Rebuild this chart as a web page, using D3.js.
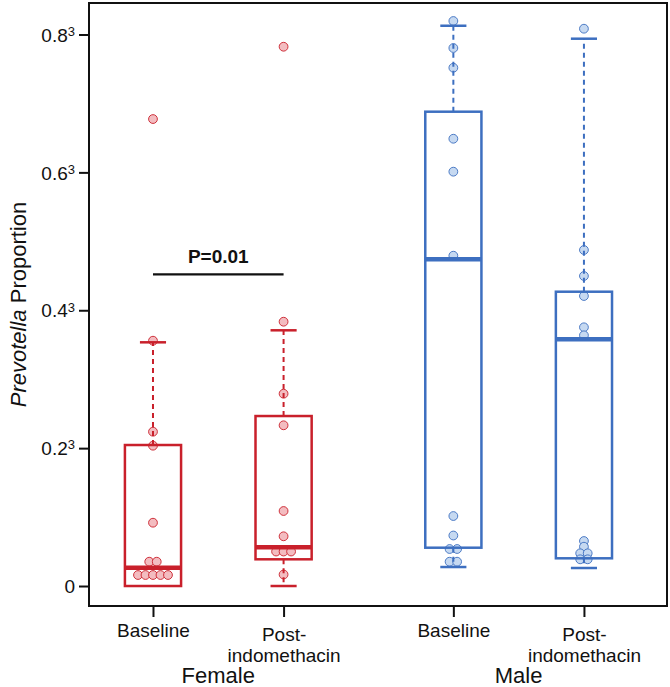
<!DOCTYPE html>
<html>
<head>
<meta charset="utf-8">
<script src="https://cdn.jsdelivr.net/npm/d3@7"></script>
<style>
  html, body { margin: 0; padding: 0; background: #fff; }
  svg { display: block; font-family: "Liberation Sans", Arial, sans-serif; }
</style>
</head>
<body>
<svg id="chart" width="670" height="687"></svg>
<script>
// ---------------- data (Prevotella proportion) ----------------
const groups = ["Female", "Male"];
const categories = ["Female Baseline", "Female Post-indomethacin", "Male Baseline", "Male Post-indomethacin"];
const tickLabels = [["Baseline"], ["Post-", "indomethacin"], ["Baseline"], ["Post-", "indomethacin"]];
const positions = [1, 2, 3.3, 4.3];
const sexOfCategory = ["Female", "Female", "Male", "Male"];

// individual points per category
const femaleBaselinePoints = [0.3108, 0.04505, 0.01121, 0.008428, 0.000774,
  0.0000438, 0.0000438, 0.00000406, 0.00000406, 0.00000406, 0.00000406, 0.00000406];
const femalePostPoints = [0.4787, 0.05635, 0.02170, 0.01267, 0.001288, 0.000375,
  0.0001253, 0.0001253, 0.0001253, 0.00000464];
const maleBaselinePoints = [0.5505, 0.4753, 0.4249, 0.2731, 0.2171, 0.1100,
  0.001046, 0.000393, 0.0001546, 0.0001546, 0.0000438, 0.0000438];
const malePostPoints = [0.5283, 0.1158, 0.09093, 0.07444, 0.05285, 0.04810,
  0.000278, 0.0001852, 0.0001067, 0.0001067, 0.0000581, 0.0000581];

// box summaries: [lower whisker, Q1, median, Q3, upper whisker]
const femaleBaselineBox = [0, 0, 0.0000187, 0.008555, 0.04417];
const femalePostBox = [0, 0.0000581, 0.0001769, 0.01499, 0.05103];
const maleBaselineBox = [0.0000209, 0.0001715, 0.1064, 0.3257, 0.5368];
const malePostBox = [0.0000178, 0.0000649, 0.04582, 0.0778, 0.5004];

// y axis: cube-root scale
const yTickRoots = [0, 0.2, 0.4, 0.6, 0.8];
const yTickBase = ["0", "0.2", "0.4", "0.6", "0.8"];
const yDomainRoots = [-0.029, 0.8457];

// annotation
const pLabel = "P=0.01";
const pBetween = [0, 1];
const pValueRoot = 0.4521;

const yTitleItalic = "Prevotella";
const yTitleRest = " Proportion";

// ---------------- layout ----------------
const colors = { Female: { stroke: "#c9202b", fill: "#f3bcc0" }, Male: { stroke: "#3d6fc0", fill: "#c6d9f1" } };
const plot = { left: 89, right: 667, top: 3, bottom: 606 };

const allPoints = [femaleBaselinePoints, femalePostPoints, maleBaselinePoints, malePostPoints];
const allBoxes = [femaleBaselineBox, femalePostBox, maleBaselineBox, malePostBox];

const svg = d3.select("#chart");

const x = d3.scaleLinear().domain([0.51, 4.936]).range([plot.left, plot.right]);
const y = d3.scalePow().exponent(1 / 3)
  .domain(yDomainRoots.map(r => r * r * r))
  .range([plot.bottom, plot.top]);

const boxHalf = 0.215;
const capHalf = 0.1;
const pointR = 4.4;
const spacing = 7.5;

// points (drawn beneath boxes), centred swarm for tied values
allPoints.forEach((pts, i) => {
  const c = colors[sexOfCategory[i]];
  const bins = d3.groups(pts, d => d);
  const placed = [];
  bins.forEach(([v, arr]) => {
    arr.forEach((d, k) => placed.push({ v: d, dx: (k - (arr.length - 1) / 2) * spacing }));
  });
  svg.append("g").selectAll("circle").data(placed).join("circle")
    .attr("cx", d => x(positions[i]) + d.dx)
    .attr("cy", d => y(d.v))
    .attr("r", pointR)
    .attr("fill", c.fill)
    .attr("stroke", c.stroke)
    .attr("stroke-width", 0.9);
});

// boxes
allBoxes.forEach((b, i) => {
  const c = colors[sexOfCategory[i]];
  const g = svg.append("g").attr("stroke", c.stroke).attr("fill", "none");
  const cx = x(positions[i]);
  const [lo, q1, med, q3, hi] = b;
  g.append("line").attr("x1", cx).attr("x2", cx).attr("y1", y(q3)).attr("y2", y(hi))
    .attr("stroke-width", 2).attr("stroke-dasharray", "5,4");
  g.append("line").attr("x1", x(positions[i] - capHalf)).attr("x2", x(positions[i] + capHalf))
    .attr("y1", y(hi)).attr("y2", y(hi)).attr("stroke-width", 2.5);
  if (lo < q1) {
    g.append("line").attr("x1", cx).attr("x2", cx).attr("y1", y(q1)).attr("y2", y(lo))
      .attr("stroke-width", 2).attr("stroke-dasharray", "5,4");
    g.append("line").attr("x1", x(positions[i] - capHalf)).attr("x2", x(positions[i] + capHalf))
      .attr("y1", y(lo)).attr("y2", y(lo)).attr("stroke-width", 2.5);
  }
  g.append("rect")
    .attr("x", x(positions[i] - boxHalf)).attr("width", x(positions[i] + boxHalf) - x(positions[i] - boxHalf))
    .attr("y", y(q3)).attr("height", y(q1) - y(q3))
    .attr("stroke-width", 2.5);
  g.append("line").attr("x1", x(positions[i] - boxHalf)).attr("x2", x(positions[i] + boxHalf))
    .attr("y1", y(med)).attr("y2", y(med)).attr("stroke-width", 4.5);
});

// frame
svg.append("rect").attr("x", plot.left).attr("y", plot.top)
  .attr("width", plot.right - plot.left).attr("height", plot.bottom - plot.top)
  .attr("fill", "none").attr("stroke", "#111").attr("stroke-width", 2);

// y axis
const yAxis = d3.axisLeft(y).tickValues(yTickRoots.map(r => r * r * r)).tickSize(10).tickPadding(4).tickFormat("");
const yg = svg.append("g").attr("transform", `translate(${plot.left},0)`).call(yAxis);
yg.select(".domain").remove();
yg.selectAll(".tick line").attr("stroke", "#111").attr("stroke-width", 2);
yg.selectAll(".tick").each(function (d, i) {
  const t = d3.select(this).append("text")
    .attr("x", -14).attr("dy", "0.35em")
    .attr("text-anchor", "end").attr("fill", "#111")
    .style("font-size", "19px").style("font-family", "'Liberation Sans', Arial, sans-serif");
  t.append("tspan").text(yTickBase[i]);
  if (yTickRoots[i] !== 0) {
    t.append("tspan").attr("dy", "-0.45em").style("font-size", "13px").text("3");
  }
});

// x axis
const xAxis = d3.axisBottom(x).tickValues(positions).tickSize(11).tickFormat("");
const xg = svg.append("g").attr("transform", `translate(0,${plot.bottom})`).call(xAxis);
xg.select(".domain").remove();
xg.selectAll(".tick line").attr("stroke", "#111").attr("stroke-width", 2);
xg.selectAll(".tick").each(function (d, i) {
  const lines = tickLabels[i];
  const t = d3.select(this).append("text").attr("text-anchor", "middle").attr("fill", "#111")
    .style("font-size", "19px").style("font-family", "'Liberation Sans', Arial, sans-serif");
  if (lines.length === 1) {
    t.append("tspan").attr("x", 0).attr("y", 31).text(lines[0]);
  } else {
    lines.forEach((l, k) => t.append("tspan").attr("x", 0).attr("y", 35 + k * 20.5).text(l));
  }
});

// group labels
groups.forEach(gname => {
  const idx = sexOfCategory.map((s, i) => s === gname ? i : -1).filter(i => i >= 0);
  const cx = d3.mean(idx, i => x(positions[i]));
  svg.append("text").attr("x", cx).attr("y", 683).attr("text-anchor", "middle")
    .attr("fill", "#111").style("font-size", "22px").text(gname);
});

// y title
const yt = svg.append("text")
  .attr("transform", `translate(26,${(plot.top + plot.bottom) / 2}) rotate(-90)`)
  .attr("text-anchor", "middle").attr("fill", "#111").style("font-size", "22px");
yt.append("tspan").style("font-style", "italic").text(yTitleItalic);
yt.append("tspan").text(yTitleRest);

// significance annotation
const pY = y(pValueRoot ** 3);
svg.append("line")
  .attr("x1", x(positions[pBetween[0]])).attr("x2", x(positions[pBetween[1]]))
  .attr("y1", pY).attr("y2", pY).attr("stroke", "#111").attr("stroke-width", 2.2);
svg.append("text")
  .attr("x", (x(positions[pBetween[0]]) + x(positions[pBetween[1]])) / 2)
  .attr("y", pY - 11).attr("text-anchor", "middle").attr("fill", "#111")
  .style("font-size", "19px").style("font-weight", "bold").text(pLabel);
</script>
</body>
</html>
